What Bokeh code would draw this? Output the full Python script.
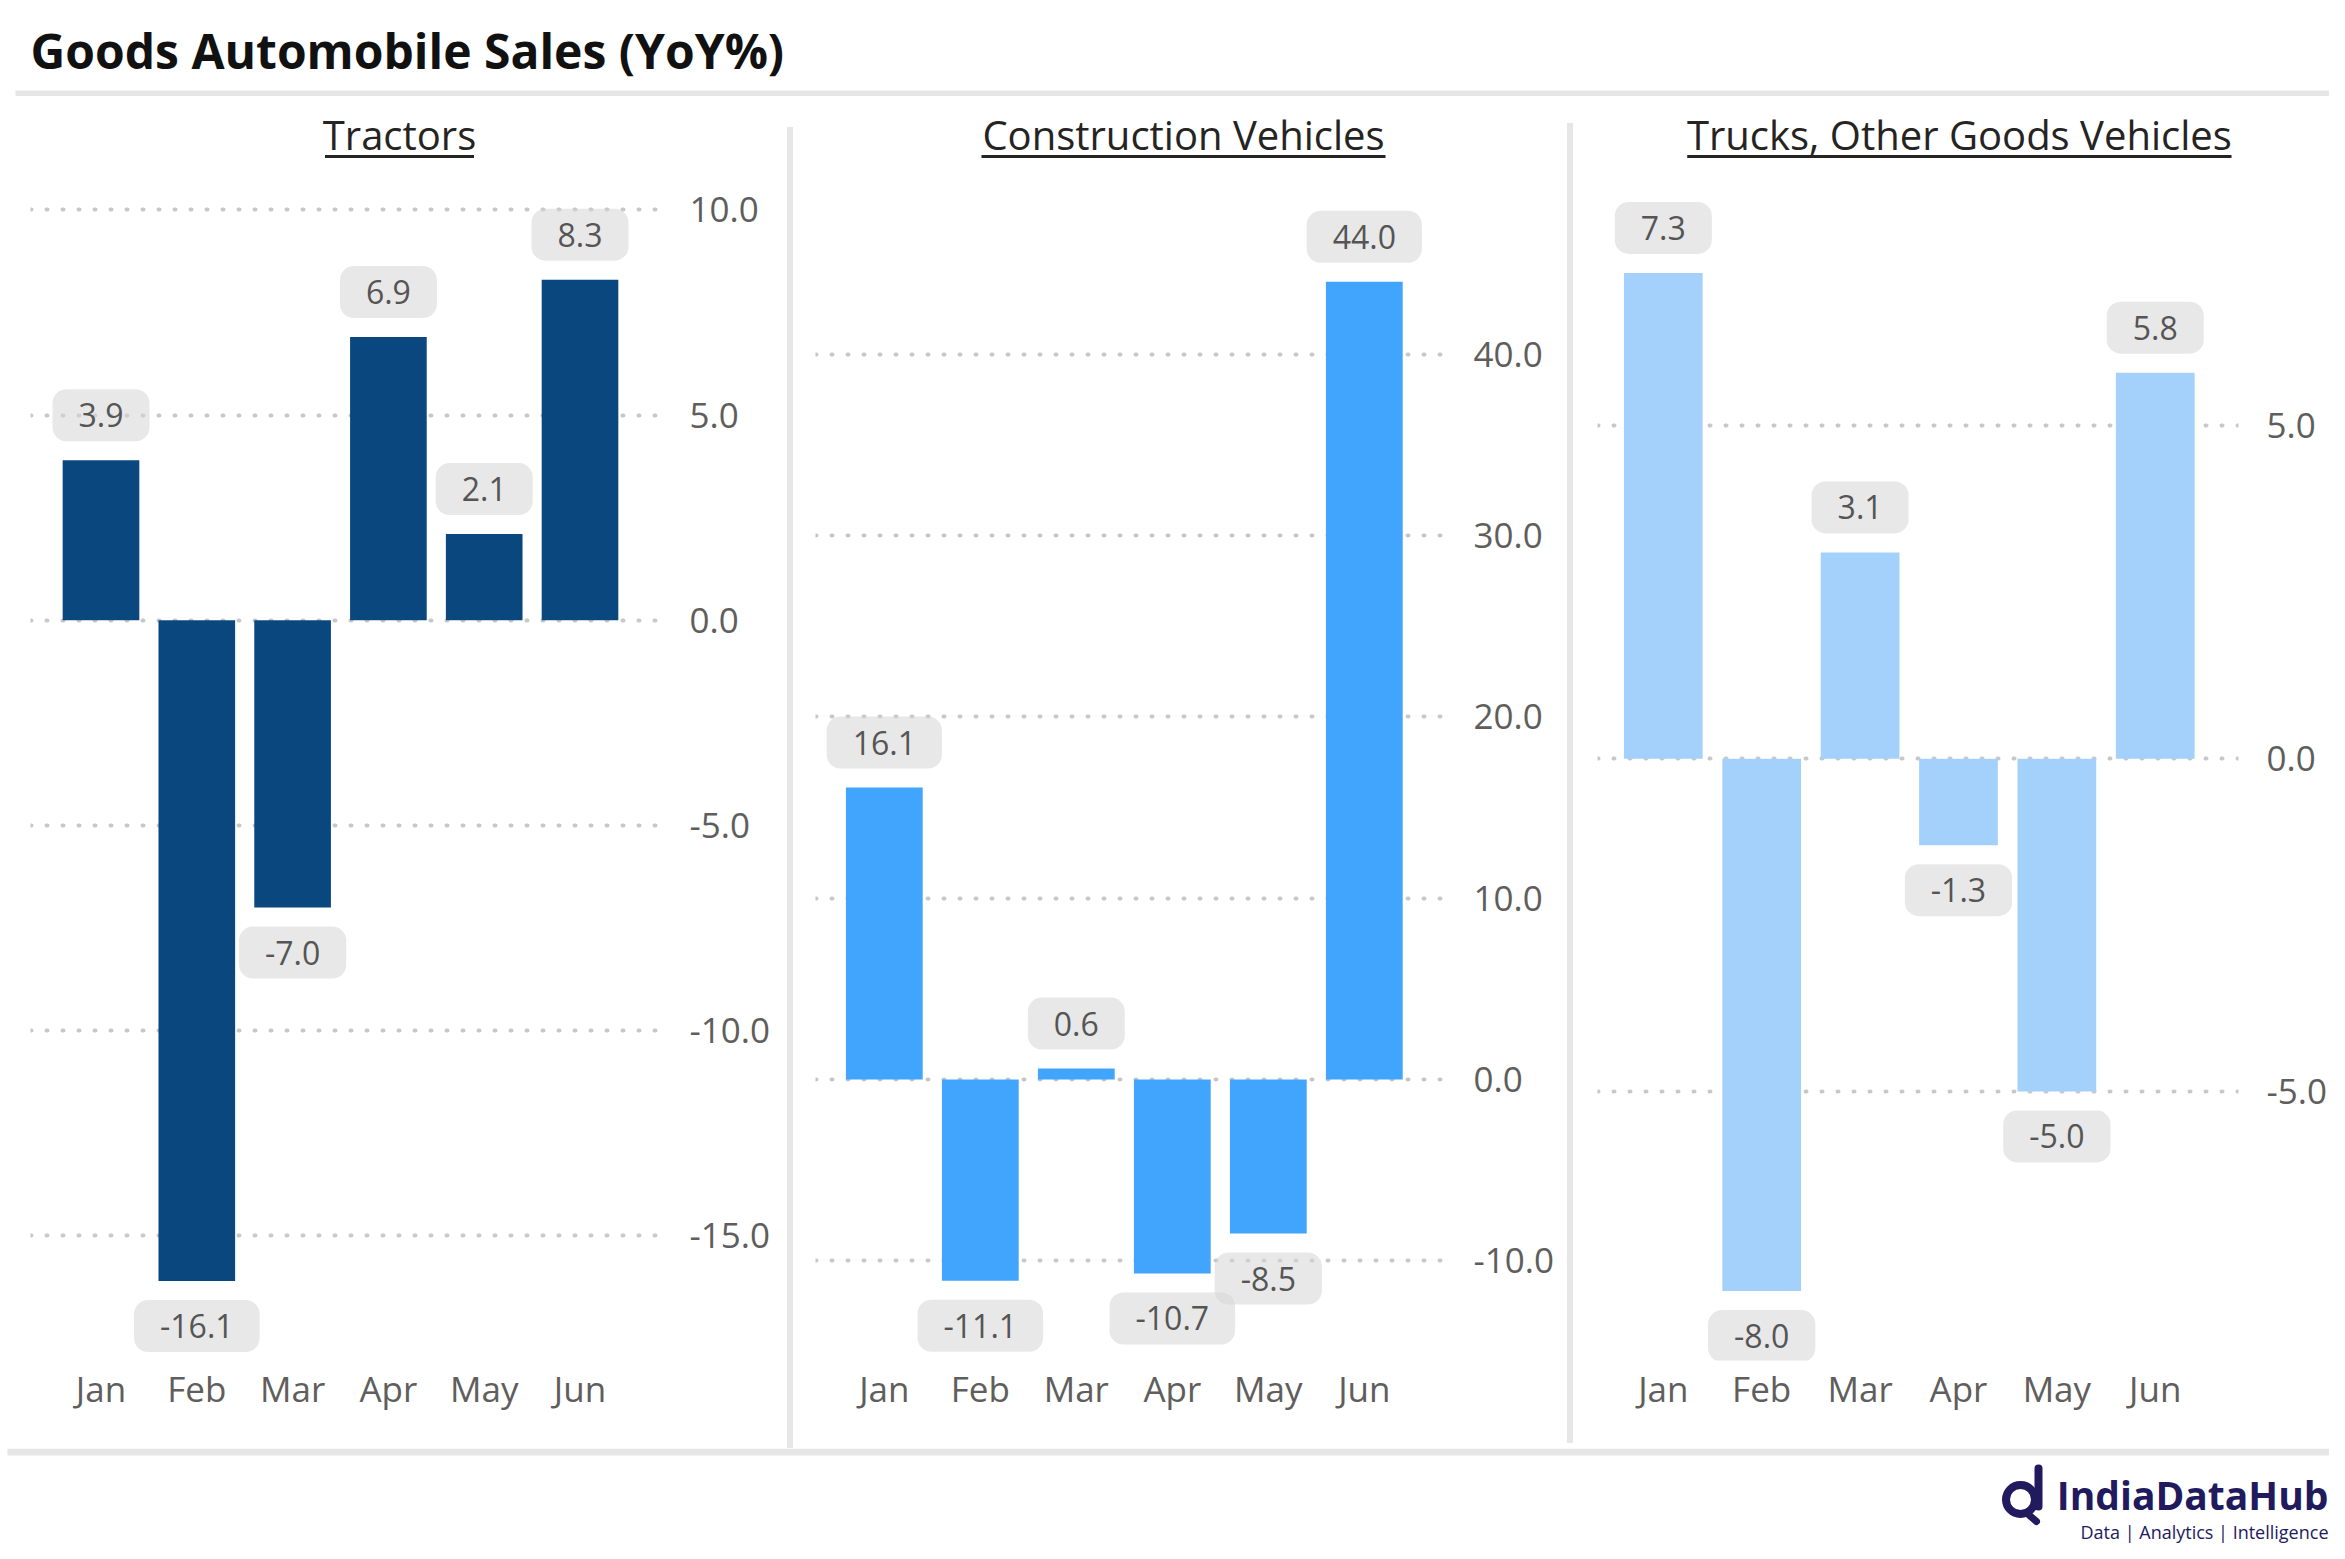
from bokeh.plotting import figure
from bokeh.layouts import column, row
from bokeh.models import (Range1d, FixedTicker, NumeralTickFormatter, Label,
                          ColumnDataSource, Div)
from bokeh.embed import file_html
from bokeh.resources import INLINE

# ---------------- data ----------------
chart_title = "Goods Automobile Sales (YoY%)"
months = ["Jan", "Feb", "Mar", "Apr", "May", "Jun"]
panel_titles = ["Tractors", "Construction Vehicles", "Trucks, Other Goods Vehicles"]
tractors = [3.9, -16.1, -7.0, 6.9, 2.1, 8.3]
construction = [16.1, -11.1, 0.6, -10.7, -8.5, 44.0]
trucks = [7.3, -8.0, 3.1, -1.3, -5.0, 5.8]
tractor_ticks = [-15, -10, -5, 0, 5, 10]
construction_ticks = [-10, 0, 10, 20, 30, 40]
truck_ticks = [-5, 0, 5]
brand = "IndiaDataHub"
brand_tag = "Data | Analytics | Intelligence"

# ---------------- styles / layout (pixel space) ----------------
FONT = "Open Sans"
BAR_COLORS = ["#0B477F", "#41A5FE", "#A3D1FC"]
TICK_COLOR = "#605E5C"
GRID_COLOR = "#C8C8C8"
SEP_COLOR = "#E6E6E6"
LABEL_TEXT = "#555555"
PAGE_W, PAGE_H = 2329, 1543
ROW_TOP, ROW_BOTTOM, FRAME_BOTTOM = 96, 1448, 1360

layouts = [
    dict(x0=0, x1=787, fl=30, fr=658, c0=100.5, dx=95.8, zero=619.8, scale=41.04,
         title_cx=399, ul_w=149, std=31),
    dict(x0=793, x1=1567, fl=815, fr=1443, c0=883.8, dx=96.0, zero=1079.0, scale=18.13,
         title_cx=1183, ul_w=404, std=30),
    dict(x0=1573, x1=PAGE_W, fl=1597, fr=2240, c0=1663.0, dx=98.7, zero=758.2, scale=66.55,
         title_cx=1960, ul_w=546, std=28),
]
LABEL_GAP = 45  # px between bar end and label centre


def make_panel(title, vals, ticks, color, L):
    width = L["x1"] - L["x0"]
    height = ROW_BOTTOM - ROW_TOP
    xs = (L["fl"] - L["c0"]) / L["dx"]
    xe = (L["fr"] - L["c0"]) / L["dx"]
    ys = (L["zero"] - FRAME_BOTTOM) / L["scale"]
    ye = (L["zero"] - ROW_TOP) / L["scale"]
    p = figure(width=width, height=height, title=None,
               x_range=Range1d(xs, xe), y_range=Range1d(ys, ye),
               y_axis_location="right", output_backend="svg", toolbar_location=None,
               min_border_left=L["fl"] - L["x0"], min_border_right=L["x1"] - L["fr"],
               min_border_top=0, min_border_bottom=ROW_BOTTOM - FRAME_BOTTOM)
    p.outline_line_color = None
    p.background_fill_color = "white"
    p.border_fill_color = "white"
    p.xgrid.visible = False
    p.ygrid.ticker = FixedTicker(ticks=ticks)
    p.ygrid.grid_line_color = GRID_COLOR
    p.ygrid.grid_line_width = 4
    p.ygrid.grid_line_dash = "1 15"
    p.ygrid.grid_line_cap = "round"

    idx = list(range(len(months)))
    src = ColumnDataSource(dict(x=idx, top=vals, month=months))
    p.vbar(x="x", top="top", bottom=0, width=0.8, source=src,
           fill_color=color, line_color=None)

    ya = p.yaxis[0]
    ya.ticker = FixedTicker(ticks=ticks)
    ya.formatter = NumeralTickFormatter(format="0.0")
    ya.axis_line_color = None
    ya.major_tick_line_color = None
    ya.minor_tick_line_color = None
    ya.major_tick_out = 0
    ya.major_tick_in = 0
    ya.major_label_standoff = L["std"]
    ya.major_label_text_font = FONT
    ya.major_label_text_font_size = "35px"
    ya.major_label_text_color = TICK_COLOR

    xa = p.xaxis[0]
    xa.ticker = FixedTicker(ticks=idx)
    xa.major_label_overrides = {i: m for i, m in zip(idx, months)}
    xa.axis_line_color = None
    xa.major_tick_line_color = None
    xa.minor_tick_line_color = None
    xa.major_tick_out = 0
    xa.major_tick_in = 0
    xa.major_label_standoff = 4
    xa.major_label_text_font = FONT
    xa.major_label_text_font_size = "35px"
    xa.major_label_text_color = TICK_COLOR

    for i, v in zip(idx, vals):
        ly = v + (LABEL_GAP if v >= 0 else -LABEL_GAP) / L["scale"]
        p.add_layout(Label(x=i, y=ly, text=f"{v:.1f}", text_align="center",
                           text_baseline="middle", text_font=FONT, text_font_size="32px",
                           text_color=LABEL_TEXT, background_fill_color="#D6D6D6",
                           background_fill_alpha=0.55, border_radius=14,
                           padding=dict(left=26, right=26, top=14, bottom=14)))

    tx = (L["title_cx"] - L["c0"]) / L["dx"]
    ty = (L["zero"] - 134) / L["scale"]
    p.add_layout(Label(x=tx, y=ty, text=title, text_align="center", text_baseline="middle",
                       text_font=FONT, text_font_size="40px", text_color="#252423"))
    uy = (L["zero"] - 156) / L["scale"]
    hw = L["ul_w"] / 2 / L["dx"]
    p.segment(x0=[tx - hw], x1=[tx + hw], y0=[uy], y1=[uy], line_width=3,
              line_color="#252423")
    return p


def make_sep(top, bottom):
    return Div(text="", width=6, height=bottom - top, margin=(top - ROW_TOP, 0, 0, 0),
               styles={"background-color": SEP_COLOR})


# header
head = figure(width=PAGE_W, height=ROW_TOP, title=None, x_axis_type=None, y_axis_type=None,
              x_range=Range1d(0, PAGE_W), y_range=Range1d(ROW_TOP, 0),
              min_border=0, outline_line_color=None, toolbar_location=None,
              output_backend="svg")
head.grid.visible = False
head.add_layout(Label(x=30, y=50, text=chart_title, text_align="left", text_baseline="middle",
                      text_font=FONT, text_font_size="48px", text_font_style="bold",
                      text_color="#111111"))
head.segment(x0=[15], x1=[PAGE_W + 20], y0=[93], y1=[93], line_width=6, line_color=SEP_COLOR)

# footer
foot = figure(width=PAGE_W, height=PAGE_H - ROW_BOTTOM, title=None, x_axis_type=None,
              y_axis_type=None, x_range=Range1d(0, PAGE_W),
              y_range=Range1d(PAGE_H, ROW_BOTTOM), min_border=0,
              outline_line_color=None, toolbar_location=None, output_backend="svg")
foot.grid.visible = False
foot.segment(x0=[7], x1=[PAGE_W + 5], y0=[1451.5], y1=[1451.5], line_width=7,
             line_color=SEP_COLOR)
NAVY = "#211A5E"
foot.add_layout(Label(x=2328, y=1494, text=brand, text_align="right", text_baseline="middle",
                      text_font=FONT, text_font_size="39px", text_font_style="bold",
                      text_color=NAVY))
foot.add_layout(Label(x=2328, y=1531, text=brand_tag, text_align="right",
                      text_baseline="middle", text_font=FONT, text_font_size="18px",
                      text_color=NAVY))
foot.scatter(x=[2020], y=[1499], size=29, marker="circle", fill_color=None,
             line_color=NAVY, line_width=8)
foot.segment(x0=[2038], x1=[2038], y0=[1468], y1=[1506], line_width=8, line_color=NAVY,
             line_cap="round")
foot.segment(x0=[2028], x1=[2036], y0=[1514], y1=[1521], line_width=7, line_color=NAVY,
             line_cap="round")

series = [tractors, construction, trucks]
tick_sets = [tractor_ticks, construction_ticks, truck_ticks]
panels = [make_panel(t, v, tk, c, L)
          for t, v, tk, c, L in zip(panel_titles, series, tick_sets, BAR_COLORS, layouts)]

body = row(panels[0], make_sep(127, 1448), panels[1], make_sep(123, 1443), panels[2])
page = column(head, body, foot)

open("out.html", "w").write(file_html(page, INLINE))
